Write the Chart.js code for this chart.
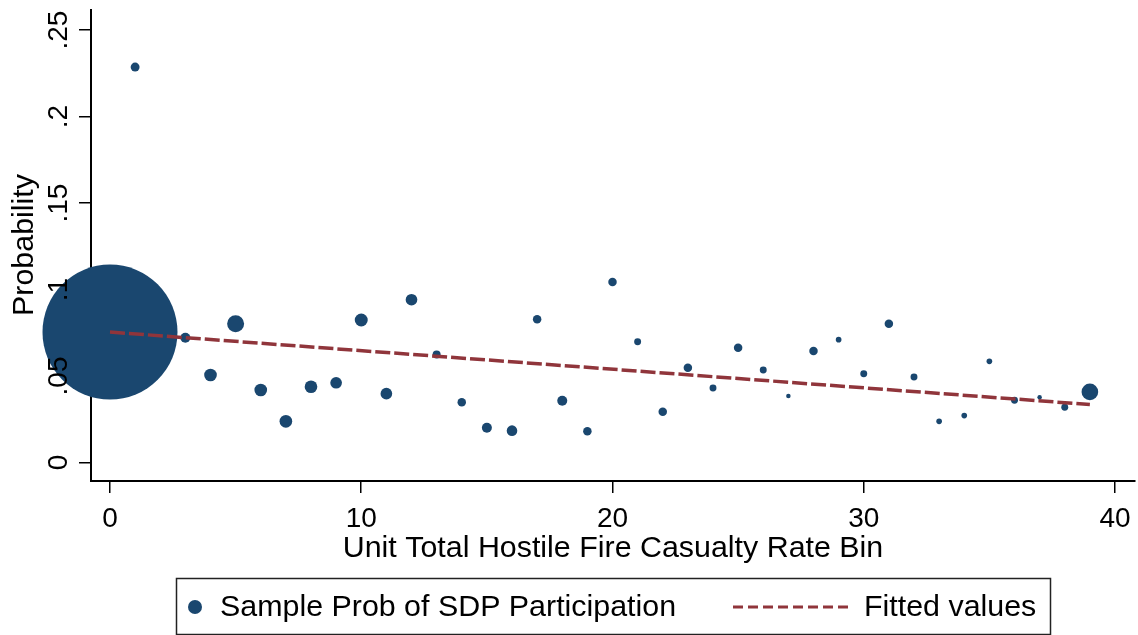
<!DOCTYPE html>
<html>
<head>
<meta charset="utf-8">
<script src="https://cdn.jsdelivr.net/npm/chart.js@4.4.1/dist/chart.umd.min.js"></script>
<style>
  html, body { margin: 0; padding: 0; background: #fff; }
  #wrap { width: 1138px; height: 635px; }
</style>
</head>
<body>
<div id="wrap"><canvas id="c" width="1138" height="635"></canvas></div>
<script>
// bins of the casualty rate and the sample probability in each bin
const binX = [0, 1, 3, 4, 5, 6, 7, 8, 9, 10, 11, 12, 13, 14, 15, 16, 17, 18, 19, 20,
  21, 22, 23, 24, 25, 26, 27, 28, 29, 30, 31, 32, 33, 34, 35, 36, 37, 38, 39];
const sampleProb = [0.0754, 0.2286, 0.0721, 0.0506, 0.0802, 0.0419, 0.0238, 0.0438, 0.0461, 0.0824,
  0.0398, 0.0941, 0.0625, 0.0348, 0.0201, 0.0184, 0.0828, 0.0357, 0.0180, 0.1043,
  0.0698, 0.0294, 0.0548, 0.0431, 0.0664, 0.0535, 0.0384, 0.0645, 0.0710, 0.0513,
  0.0802, 0.0494, 0.0238, 0.0271, 0.0585, 0.0360, 0.0377, 0.0319, 0.0408];
// relative bin weights (marker area)
const binWeight = [4556, 20, 25, 40, 72, 40, 40, 40, 34, 42,
  34, 34, 16, 18, 25, 28, 18, 25, 18, 18,
  12, 18, 18, 12, 18, 12, 5, 18, 8, 12,
  18, 12, 8, 8, 8, 12, 5, 12, 69];

const fitX = [0, 39];
const fitY = [0.0754, 0.0335];

const xTicks = [0, 10, 20, 30, 40];
const yTicks = [0, 0.05, 0.1, 0.15, 0.2, 0.25];
const yTickLabels = ["0", ".05", ".1", ".15", ".2", ".25"];

const xTitle = "Unit Total Hostile Fire Casualty Rate Bin";
const yTitle = "Probability";
const legendLabels = ["Sample Prob of SDP Participation", "Fitted values"];

const NAVY = "#1a476f";
const MAROON = "#90353b";
const FONT = '"Liberation Sans", Arial, Helvetica, sans-serif';

const textPlugin = {
  id: "stataText",
  afterDraw(chart) {
    const ctx = chart.ctx;
    const xs = chart.scales.x, ys = chart.scales.y;
    ctx.save();
    ctx.fillStyle = "#000";

    // y tick labels, rotated
    ctx.font = "28px " + FONT;
    ctx.textAlign = "center";
    ctx.textBaseline = "alphabetic";
    yTicks.forEach((v, i) => {
      ctx.save();
      ctx.translate(67, ys.getPixelForValue(v));
      ctx.rotate(-Math.PI / 2);
      ctx.fillText(yTickLabels[i], 0, 0);
      ctx.restore();
    });

    // x tick labels
    xTicks.forEach((v) => {
      ctx.fillText(String(v), xs.getPixelForValue(v), 527);
    });

    // titles
    ctx.font = "30.4px " + FONT;
    ctx.fillText(xTitle, (chart.chartArea.left + chart.chartArea.right) / 2, 557);
    ctx.save();
    ctx.translate(33, 245);
    ctx.rotate(-Math.PI / 2);
    ctx.fillText(yTitle, 0, 0);
    ctx.restore();

    // legend box
    ctx.strokeStyle = "#222";
    ctx.lineWidth = 1.5;
    ctx.strokeRect(176.5, 578.5, 874, 56);
    const ly = 607;
    ctx.fillStyle = NAVY;
    ctx.beginPath();
    ctx.arc(195, ly, 7, 0, Math.PI * 2);
    ctx.fill();
    ctx.strokeStyle = MAROON;
    ctx.lineWidth = 3;
    ctx.setLineDash([10, 5]);
    ctx.beginPath();
    ctx.moveTo(733, ly);
    ctx.lineTo(850, ly);
    ctx.stroke();
    ctx.setLineDash([]);
    ctx.fillStyle = "#000";
    ctx.textAlign = "left";
    ctx.textBaseline = "middle";
    ctx.fillText(legendLabels[0], 220, ly + 1);
    ctx.fillText(legendLabels[1], 864, ly + 1);
    ctx.restore();
  }
};

new Chart(document.getElementById("c"), {
  data: {
    datasets: [
      {
        type: "line",
        label: legendLabels[1],
        data: fitX.map((x, i) => ({ x, y: fitY[i] })),
        borderColor: MAROON,
        borderWidth: 3.5,
        borderDash: [15, 4],
        pointRadius: 0,
        fill: false,
        order: 0,
      },
      {
        type: "scatter",
        label: legendLabels[0],
        data: binX.map((x, i) => ({ x, y: sampleProb[i] })),
        backgroundColor: NAVY,
        borderWidth: 0,
        pointRadius: binWeight.map((w) => Math.sqrt(w)),
        pointHoverRadius: binWeight.map((w) => Math.sqrt(w)),
        clip: false,
        order: 1,
      },
    ],
  },
  options: {
    responsive: false,
    animation: false,
    events: [],
    layout: { autoPadding: false, padding: { top: 10, right: 3, left: 0, bottom: 0 } },
    scales: {
      x: {
        type: "linear",
        min: -0.756,
        max: 40.796,
        z: 1,
        afterBuildTicks: (s) => { s.ticks = xTicks.map((v) => ({ value: v })); },
        afterFit: (s) => { s.height = 154; },
        ticks: { display: false },
        grid: { drawOnChartArea: false, drawTicks: true, tickLength: 12, color: "#000", lineWidth: 1.5 },
        border: { display: true, color: "#000", width: 2 },
      },
      y: {
        type: "linear",
        min: -0.0107,
        max: 0.2616,
        z: 1,
        afterBuildTicks: (s) => { s.ticks = yTicks.map((v) => ({ value: v })); },
        afterFit: (s) => { s.width = 91; },
        ticks: { display: false },
        grid: { drawOnChartArea: false, drawTicks: true, tickLength: 12, color: "#000", lineWidth: 1.5 },
        border: { display: true, color: "#000", width: 2 },
      },
    },
    plugins: {
      legend: { display: false },
      tooltip: { enabled: false },
    },
  },
  plugins: [textPlugin],
});
</script>
</body>
</html>
